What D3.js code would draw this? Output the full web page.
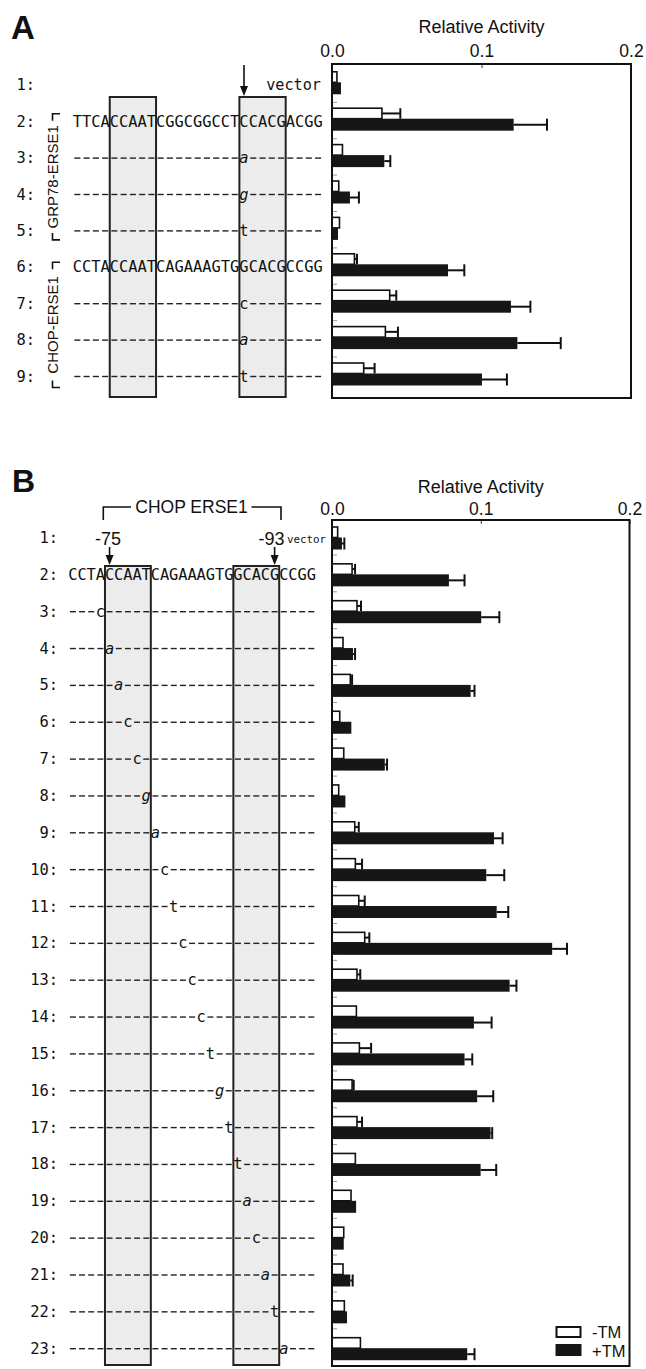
<!DOCTYPE html>
<html><head><meta charset="utf-8">
<script src="https://cdn.jsdelivr.net/npm/d3@7"></script>
<style>body{margin:0;background:#fff}svg{display:block}</style>
</head><body>
<svg id="fig" width="646" height="1369"></svg>
<script>
// ---------------- DATA ----------------
const tickValues = [0, 0.1, 0.2];
const axisTitle = "Relative Activity";
const legendLabels = ["-TM", "+TM"];

// Panel A
const rowsA = ["1","2","3","4","5","6","7","8","9"];
const minusTM_A    = [0.0033, 0.0334, 0.0070, 0.0045, 0.0050, 0.0150, 0.0386, 0.0357, 0.0212];
const minusTM_A_sd = [0,      0.0123, 0,      0,      0,      0.0017, 0.0044, 0.0084, 0.0073];
const plusTM_A     = [0.0060, 0.1215, 0.0350, 0.0120, 0.0040, 0.0776, 0.1197, 0.1240, 0.1003];
const plusTM_A_sd  = [0,      0.0223, 0.0040, 0.0060, 0,      0.0109, 0.0130, 0.0290, 0.0167];
const seqGRP78 = "TTCACCAATCGGCGGCCTCCACGACGG";
const seqCHOP  = "CCTACCAATCAGAAAGTGGCACGCCGG";
const mutRowsA = ["3","4","5","7","8","9"];
const mutLettersA = ["a","g","t","c","a","t"];
const mutPosA = 18;
const groupLabelsA = ["GRP78-ERSE1","CHOP-ERSE1"];

// Panel B
const rowsB = ["1","2","3","4","5","6","7","8","9","10","11","12","13","14","15","16","17","18","19","20","21","22","23"];
const minusTM_B    = [0.0038,0.0135,0.0168,0.0074,0.0123,0.0052,0.0079,0.0045,0.0153,0.0157,0.0180,0.0220,0.0168,0.0164,0.0184,0.0135,0.0168,0.0157,0.0128,0.0079,0.0074,0.0083,0.0191];
const minusTM_B_sd = [0,     0.0020,0.0027,0,     0.0012,0,     0,     0,     0.0027,0.0045,0.0040,0.0031,0.0022,0,     0.0079,0.0011,0.0034,0,     0,     0,     0,     0,     0];
const plusTM_B     = [0.0067,0.0786,0.1003,0.0141,0.0932,0.0130,0.0355,0.0090,0.1089,0.1037,0.1107,0.1480,0.1194,0.0954,0.0891,0.0976,0.1066,0.0999,0.0162,0.0079,0.0123,0.0101,0.0909];
const plusTM_B_sd  = [0.0016,0.0105,0.0122,0.0014,0.0026,0,     0.0015,0,     0.0058,0.0121,0.0078,0.0100,0.0046,0.0119,0.0052,0.0108,0.0011,0.0105,0,     0,     0.0016,0,     0.0049];
const mutRowsB = ["3","4","5","6","7","8","9","10","11","12","13","14","15","16","17","18","19","20","21","22","23"];
const mutLettersB = ["c","a","a","c","c","g","a","c","t","c","c","c","t","g","t","t","a","c","a","t","a"];
const bracketLabelB = "CHOP ERSE1";
const posLabelsB = ["-75","-93"];

// ---------------- DRAW ----------------
const SANS = "'Liberation Sans', Arial, Helvetica, sans-serif";
const MONO = "'DejaVu Sans Mono', monospace";
const svg = d3.select("#fig");

function arrow(g, x, y1, y2) {
  g.append("line").attr("x1", x).attr("x2", x).attr("y1", y1).attr("y2", y2 - 9)
    .attr("stroke", "#111").attr("stroke-width", 1.6);
  g.append("path").attr("d", `M${x-4},${y2-10} L${x+4},${y2-10} L${x},${y2} Z`).attr("fill", "#111");
}

function drawChars(g, chars, x0, cw, y) {
  // letters as text, '-' as short dash segments
  const items = chars.map((c, i) => ({c, i}));
  g.selectAll(null).data(items.filter(d => d.c !== "-")).join("text")
    .attr("x", d => x0 + (d.i + 0.5) * cw).attr("y", y)
    .attr("text-anchor", "middle").attr("font-family", MONO).attr("font-size", 15.4)
    .attr("font-style", d => (d.c === "a" || d.c === "g") ? "italic" : "normal")
    .attr("fill", "#111").text(d => d.c);
  g.selectAll(null).data(items.filter(d => d.c === "-")).join("line")
    .attr("x1", d => x0 + d.i * cw + 1.6).attr("x2", d => x0 + (d.i + 1) * cw - 1.6)
    .attr("y1", y - 5).attr("y2", y - 5)
    .attr("stroke", "#222").attr("stroke-width", 1.4);
}

function barPanel(cfg) {
  const g = svg.append("g");
  const x = d3.scaleLinear().domain([0, 0.2]).range([cfg.left, cfg.right]);
  const y = d3.scalePoint().domain(cfg.rows).range([cfg.rowY0, cfg.rowY1]);
  g.append("text").attr("x", x(0.1)).attr("y", cfg.titleY).attr("text-anchor", "middle")
    .attr("font-family", SANS).attr("font-size", 18).attr("fill", "#111").text(axisTitle);
  const ax = g.append("g").attr("transform", `translate(0,${cfg.top})`)
    .call(d3.axisTop(x).tickValues(tickValues).tickFormat(d3.format(".1f")).tickSize(-4).tickPadding(cfg.tickPad));
  ax.select(".domain").remove();
  ax.selectAll("line").attr("stroke", "#333").attr("stroke-width", 1);
  ax.selectAll("text").attr("font-family", SANS).attr("font-size", 17.5).attr("fill", "#111");
  g.selectAll(null).data(cfg.rows.slice(0, -1)).join("line")
    .attr("x1", cfg.left).attr("x2", cfg.left + 5)
    .attr("y1", d => y(d) + 17).attr("y2", d => y(d) + 17)
    .attr("stroke", "#999").attr("stroke-width", 1);
  const hW = 10.5, hB = 12, s = cfg.split;
  const data = cfg.rows.map((r, i) => ({r, m: cfg.minus[i], ms: cfg.minusSd[i], p: cfg.plus[i], ps: cfg.plusSd[i]}));
  g.selectAll(null).data(data).join("rect")
    .attr("x", x(0)).attr("y", d => y(d.r) + s - hW)
    .attr("width", d => x(d.m) - x(0)).attr("height", hW)
    .attr("fill", "#fff").attr("stroke", "#111").attr("stroke-width", 1.6);
  g.selectAll(null).data(data).join("rect")
    .attr("x", x(0)).attr("y", d => y(d.r) + s)
    .attr("width", d => x(d.p) - x(0)).attr("height", hB)
    .attr("fill", "#161616");
  const eb = (sel, key, sdKey, yc, h) => {
    const dd = data.filter(d => d[sdKey] > 0);
    sel.selectAll(null).data(dd).join("line")
      .attr("x1", d => x(d[key])).attr("x2", d => x(d[key] + d[sdKey]))
      .attr("y1", d => y(d.r) + yc).attr("y2", d => y(d.r) + yc)
      .attr("stroke", "#111").attr("stroke-width", 2);
    sel.selectAll(null).data(dd).join("line")
      .attr("x1", d => x(d[key] + d[sdKey])).attr("x2", d => x(d[key] + d[sdKey]))
      .attr("y1", d => y(d.r) + yc - h / 2).attr("y2", d => y(d.r) + yc + h / 2)
      .attr("stroke", "#111").attr("stroke-width", 2);
  };
  eb(g.append("g"), "m", "ms", s - hW / 2, hW);
  eb(g.append("g"), "p", "ps", s + hB / 2, hB);
  g.append("rect").attr("x", cfg.left).attr("y", cfg.top)
    .attr("width", cfg.right - cfg.left).attr("height", cfg.bottom - cfg.top)
    .attr("fill", "none").attr("stroke", "#111").attr("stroke-width", 2);
  return {x, y, g};
}

function rowLabels(y, rows, xr) {
  svg.append("g").selectAll("text").data(rows).join("text")
    .attr("x", xr).attr("y", d => y(d) + 5).attr("text-anchor", "end")
    .attr("font-family", MONO).attr("font-size", 15.4).attr("fill", "#111")
    .text(d => d + ":");
}

// ======== PANEL A ========
svg.append("text").attr("x", 11).attr("y", 39).attr("font-family", SANS).attr("font-weight", "bold")
  .attr("font-size", 33).attr("fill", "#111").text("A");
const A = barPanel({left: 332, right: 631, top: 64, bottom: 398, rows: rowsA, rowY0: 85.3, rowY1: 376.5,
  minus: minusTM_A, minusSd: minusTM_A_sd, plus: plusTM_A, plusSd: plusTM_A_sd, split: -3,
  titleY: 32.5, tickPad: 7});
{
  const x0 = 72.7, cw = 9.26, g = svg.append("g");
  [[4, 9], [18, 23]].forEach(([a, b]) => {
    g.append("rect").attr("x", x0 + a * cw).attr("y", 97).attr("width", (b - a) * cw).attr("height", 300)
      .attr("fill", "#ececec").attr("stroke", "#222").attr("stroke-width", 2);
  });
  rowLabels(A.y, rowsA, 35);
  drawChars(g, seqGRP78.split(""), x0, cw, A.y("2") + 5);
  drawChars(g, seqCHOP.split(""), x0, cw, A.y("6") + 5);
  mutRowsA.forEach((r, i) => {
    const chars = d3.range(27).map(k => k === mutPosA ? mutLettersA[i] : "-");
    drawChars(g, chars, x0, cw, A.y(r) + 5);
  });
  arrow(g, x0 + (mutPosA + 0.5) * cw, 65, 96);
  g.append("text").attr("x", 321).attr("y", A.y("1") + 5).attr("text-anchor", "end")
    .attr("font-family", MONO).attr("font-size", 15.2).attr("fill", "#111").text("vector");
  const groups = [[A.y("2") - 8, A.y("5") + 9, groupLabelsA[0]], [A.y("6") - 5, A.y("9") + 11, groupLabelsA[1]]];
  groups.forEach(([t, b, lab]) => {
    g.append("path").attr("d", `M60,${t} H52.5 V${t + 7}`).attr("fill", "none").attr("stroke", "#111").attr("stroke-width", 1.6);
    g.append("path").attr("d", `M52.5,${b - 7} V${b} H60`).attr("fill", "none").attr("stroke", "#111").attr("stroke-width", 1.6);
    g.append("text").attr("transform", `translate(57.5,${(t + b) / 2}) rotate(-90)`)
      .attr("text-anchor", "middle").attr("font-family", SANS).attr("font-size", 15).attr("fill", "#111").text(lab);
  });
}

// ======== PANEL B ========
svg.append("text").attr("x", 12).attr("y", 492).attr("font-family", SANS).attr("font-weight", "bold")
  .attr("font-size", 32).attr("fill", "#111").text("B");
const B = barPanel({left: 332, right: 629.5, top: 520, bottom: 1366, rows: rowsB, rowY0: 538, rowY1: 1348.7,
  minus: minusTM_B, minusSd: minusTM_B_sd, plus: plusTM_B, plusSd: plusTM_B_sd, split: -0.5,
  titleY: 493, tickPad: 5});
{
  const x0 = 68.3, cw = 9.17, g = svg.append("g");
  [[4, 9], [18, 23]].forEach(([a, b]) => {
    g.append("rect").attr("x", x0 + a * cw).attr("y", 566).attr("width", (b - a) * cw).attr("height", 799)
      .attr("fill", "#ececec").attr("stroke", "#222").attr("stroke-width", 2);
  });
  rowLabels(B.y, rowsB, 58);
  drawChars(g, seqCHOP.split(""), x0, cw, B.y("2") + 5);
  mutRowsB.forEach((r, i) => {
    const pos = +r;
    const chars = d3.range(27).map(k => k === pos ? mutLettersB[i] : "-");
    drawChars(g, chars, x0, cw, B.y(r) + 5);
  });
  const bx1 = 103.3, bx2 = 281, by = 507;
  g.append("path").attr("d", `M${bx1},520 V${by} H131 M251.5,${by} H${bx2} V520`)
    .attr("fill", "none").attr("stroke", "#111").attr("stroke-width", 1.6);
  g.append("text").attr("x", 191.5).attr("y", 512.5).attr("text-anchor", "middle")
    .attr("font-family", SANS).attr("font-size", 17.5).attr("fill", "#111").text(bracketLabelB);
  const p1 = x0 + 4.5 * cw, p2 = x0 + 22.5 * cw;
  g.append("text").attr("x", p1 - 1.5).attr("y", 545).attr("text-anchor", "middle")
    .attr("font-family", SANS).attr("font-size", 18).attr("fill", "#111").text(posLabelsB[0]);
  g.append("text").attr("x", p2 - 3).attr("y", 545).attr("text-anchor", "middle")
    .attr("font-family", SANS).attr("font-size", 18).attr("fill", "#111").text(posLabelsB[1]);
  arrow(g, p1, 547, 565);
  arrow(g, p2, 547, 565);
  g.append("text").attr("x", 287).attr("y", 542.5)
    .attr("font-family", MONO).attr("font-size", 10.8).attr("fill", "#111").text("vector");
  const lg = svg.append("g");
  lg.append("rect").attr("x", 556.5).attr("y", 1327).attr("width", 24).attr("height", 10)
    .attr("fill", "#fff").attr("stroke", "#111").attr("stroke-width", 2);
  lg.append("rect").attr("x", 555.5).attr("y", 1344).attr("width", 26).attr("height", 12).attr("fill", "#161616");
  lg.selectAll("text").data(legendLabels).join("text")
    .attr("x", 592).attr("y", (d, i) => 1338 + i * 18.5)
    .attr("font-family", SANS).attr("font-size", 16.5).attr("fill", "#111").text(d => d);
}
</script>
</body></html>
